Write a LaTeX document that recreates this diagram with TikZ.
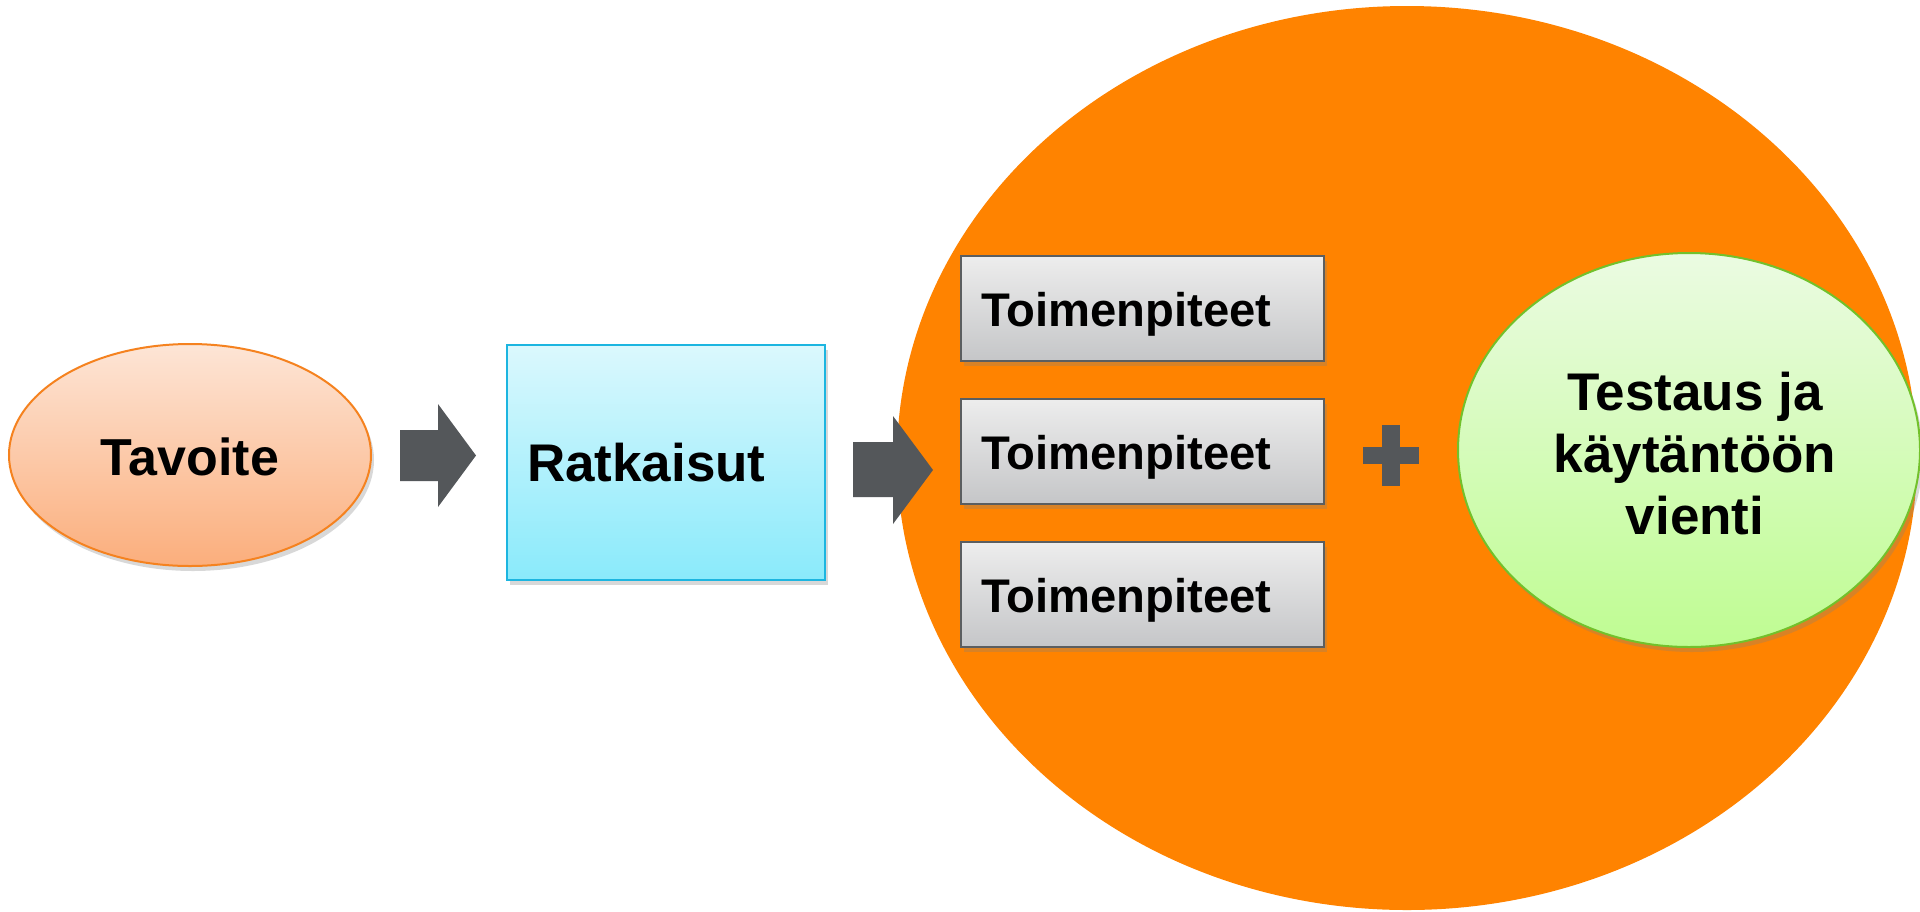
\documentclass[tikz,border=0pt]{standalone}
\usepackage{fontspec}
\setmainfont{Liberation Sans}
\usetikzlibrary{shapes.geometric,shadows}
\definecolor{bigorange}{HTML}{FF8300}
\definecolor{tavT}{HTML}{FDE5D6}
\definecolor{tavBo}{HTML}{FBAE7C}
\definecolor{tavB}{HTML}{F5821F}
\definecolor{ratT}{HTML}{DBF8FD}
\definecolor{ratBo}{HTML}{8AEAFB}
\definecolor{ratB}{HTML}{1CB5E0}
\definecolor{toiT}{HTML}{EDEDED}
\definecolor{toiBo}{HTML}{C5C6C8}
\definecolor{toiB}{HTML}{5B5E60}
\definecolor{grnT}{HTML}{EBFBE2}
\definecolor{grnBo}{HTML}{BFFC92}
\definecolor{grnB}{HTML}{72C12B}
\definecolor{arrowgray}{HTML}{54575A}
\newcommand{\lowtxt}[2]{\raisebox{-#1}[\height][\depth]{#2}}
\begin{document}
\begin{tikzpicture}[x=0.5pt,y=-0.5pt,
  softshadow/.style={drop shadow={opacity=0.3,shadow xshift=1.5pt,shadow yshift=-2.5pt}},
  tavstyle/.style={ellipse,draw=tavB,line width=1pt,top color=tavT,bottom color=tavBo,
    minimum width=181pt,minimum height=111pt,inner sep=0pt,softshadow,
    font=\fontsize{26pt}{31pt}\selectfont\bfseries},
  ratstyle/.style={rectangle,draw=ratB,line width=1pt,top color=ratT,bottom color=ratBo,
    minimum width=159pt,minimum height=117.5pt,inner xsep=10pt,inner ysep=0pt,
    text width=139pt,align=left,softshadow,
    font=\fontsize{26.5pt}{31pt}\selectfont\bfseries},
  toistyle/.style={rectangle,draw=toiB,line width=1pt,top color=toiT,bottom color=toiBo,
    minimum width=181.5pt,minimum height=52.5pt,inner xsep=10pt,inner ysep=0pt,
    text width=161.5pt,align=left,softshadow,
    font=\fontsize{23.6pt}{28pt}\selectfont\bfseries},
  grnstyle/.style={ellipse,draw=grnB,line width=1pt,top color=grnT,bottom color=grnBo,
    minimum width=231pt,minimum height=197pt,inner sep=0pt,softshadow,align=center,
    font=\fontsize{26.5pt}{31pt}\selectfont\bfseries},
  blockarrow/.style={fill=arrowgray}
]
\useasboundingbox (0,0) rectangle (1920,911);
\fill[white] (0,0) rectangle (1920,911);
\begin{scope}
\clip (0,0) rectangle (1920,911);
\node[ellipse,fill=bigorange,minimum width=510pt,minimum height=452pt,inner sep=0pt] (big) at (1407,458) {};
\end{scope}

\node[tavstyle] (tav) at (190,455) {\lowtxt{1pt}{Tavoite}};
\node[ratstyle] (rat) at (666,462) {\lowtxt{0.5pt}{Ratkaisut}};

\node[toistyle] (t1) at (1142.5,308.5) {\lowtxt{3pt}{Toimenpiteet}};
\node[toistyle] (t2) at (1142.5,451) {\lowtxt{3pt}{Toimenpiteet}};
\node[toistyle] (t3) at (1142.5,594.5) {\lowtxt{3pt}{Toimenpiteet}};

\begin{scope}
\clip (0,0) rectangle (1920,911);
\node[grnstyle] (grn) at (1689,450) {\hspace*{6pt}\lowtxt{2pt}{Testaus ja}\\\hspace*{6pt}\lowtxt{2pt}{käytäntöön}\\\hspace*{6pt}\lowtxt{2pt}{vienti}};
\end{scope}

% block arrows
\fill[blockarrow] (400,430) -- (438,430) -- (438,404) -- (476,455.5) -- (438,507) -- (438,481) -- (400,481) -- cycle;
\fill[blockarrow] (853,442) -- (893,442) -- (893,416) -- (933,470) -- (893,524) -- (893,497) -- (853,497) -- cycle;

% plus sign
\fill[blockarrow] (1363,447) rectangle (1419,464);
\fill[blockarrow] (1382,425) rectangle (1400,486);
\end{tikzpicture}
\end{document}
